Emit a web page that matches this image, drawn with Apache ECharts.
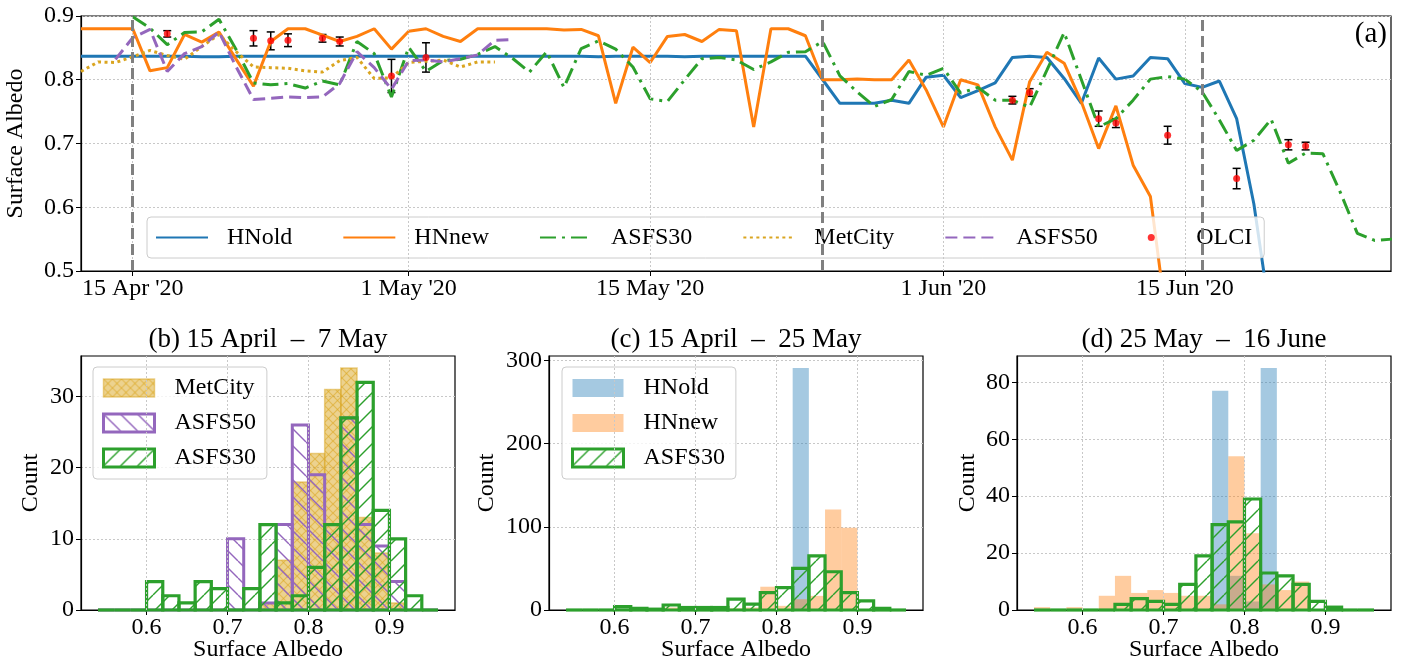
<!DOCTYPE html>
<html><head><meta charset="utf-8">
<script src="https://cdn.jsdelivr.net/npm/echarts@6/dist/echarts.min.js"></script>
<style>html,body{margin:0;padding:0;background:#fff}#c{width:1401px;height:667px}</style>
</head><body><div id="c"></div>
<script>
// ---------------- DATA ----------------
const dateTicks = ['2020-04-15', '2020-05-01', '2020-05-15', '2020-06-01', '2020-06-15'];
const dateTickLabels = ["15 Apr '20", "1 May '20", "15 May '20", "1 Jun '20", "15 Jun '20"];
const periodBounds = ['2020-04-15', '2020-05-25', '2020-06-16'];
const axisStart = '2020-04-12';
const axisEnd = '2020-06-27';

const hnoldStart = '2020-04-12';
const hnold = [0.837, 0.837, 0.837, 0.837, 0.837, 0.837, 0.837, 0.836, 0.836, 0.837,
  0.837, 0.837, 0.837, 0.837, 0.837, 0.837, 0.837, 0.837, 0.837, 0.837,
  0.837, 0.837, 0.837, 0.837, 0.837, 0.837, 0.837, 0.837, 0.837, 0.837,
  0.836, 0.837, 0.837, 0.837, 0.837, 0.836, 0.837, 0.837, 0.837, 0.837,
  0.837, 0.837, 0.837,
  0.800, 0.763, 0.763, 0.763, 0.768, 0.763, 0.804, 0.807, 0.772, 0.783,
  0.795, 0.835, 0.837, 0.835, 0.802, 0.763, 0.834, 0.801, 0.806, 0.835,
  0.833, 0.794, 0.788, 0.798, 0.739, 0.605, 0.420];

const hnnewStart = '2020-04-12';
const hnnew = [0.880, 0.880, 0.880, 0.880, 0.814, 0.819, 0.871, 0.859, 0.875, 0.832,
  0.790, 0.860, 0.880, 0.880, 0.870, 0.860, 0.868, 0.880, 0.848, 0.876,
  0.880, 0.868, 0.860, 0.880, 0.880, 0.880, 0.880, 0.880, 0.878, 0.879,
  0.869, 0.763, 0.851, 0.827, 0.868, 0.871, 0.860, 0.879, 0.877, 0.726,
  0.880, 0.880, 0.869, 0.800, 0.800, 0.801, 0.800, 0.800, 0.831, 0.784,
  0.726, 0.800, 0.792, 0.726, 0.674, 0.797, 0.843, 0.826, 0.765, 0.692,
  0.759, 0.666, 0.617, 0.410];

const asfs30Start = '2020-04-15';
const asfs30 = [0.899, 0.881, 0.855, 0.874, 0.875, 0.895, 0.847, 0.795, 0.792, 0.794,
  0.787, 0.798, 0.792, 0.860, 0.841, 0.773, 0.851, 0.813, 0.830, 0.832,
  0.840, 0.852, 0.834, 0.812, 0.844, 0.788, 0.849, 0.861, 0.848, 0.820,
  0.770, 0.766, 0.800, 0.833, 0.835, 0.831, 0.816, 0.828, 0.843, 0.844,
  0.860, 0.806, 0.781, 0.758, 0.769, 0.813, 0.807, 0.818, 0.779, 0.788,
  0.768, 0.768, 0.757, 0.815, 0.874, 0.800, 0.726, 0.739, 0.768, 0.801,
  0.805, 0.801, 0.781, 0.737, 0.689, 0.705, 0.738, 0.669, 0.685, 0.684,
  0.624, 0.559, 0.548, 0.550];

const metcityStart = '2020-04-12';
const metcity = [0.813, 0.828, 0.827, 0.836, 0.846, 0.838, 0.832, 0.852, 0.871, 0.844,
  0.820, 0.819, 0.818, 0.814, 0.812, 0.830, 0.835, 0.802, 0.803, 0.827,
  0.829, 0.831, 0.820, 0.828, 0.828];

const asfs50Start = '2020-04-14';
const asfs50 = [0.832, 0.866, 0.879, 0.813, 0.841, 0.852, 0.875, 0.820, 0.769, 0.771,
  0.773, 0.772, 0.773, 0.794, 0.844, 0.819, 0.785, 0.830, 0.831, 0.828,
  0.833, 0.839, 0.862, 0.863];

const olciDates = ['2020-04-17', '2020-04-22', '2020-04-23', '2020-04-24', '2020-04-26', '2020-04-27',
  '2020-04-30', '2020-05-02', '2020-06-05', '2020-06-06', '2020-06-10', '2020-06-11',
  '2020-06-14', '2020-06-18', '2020-06-21', '2020-06-22'];
const olciValues = [0.872, 0.865, 0.861, 0.862, 0.865, 0.860, 0.806, 0.835,
  0.768, 0.780, 0.739, 0.732, 0.713, 0.645, 0.698, 0.696];
const olciErrors = [0.005, 0.012, 0.014, 0.010, 0.006, 0.007, 0.026, 0.023,
  0.006, 0.006, 0.012, 0.007, 0.014, 0.016, 0.008, 0.006];

// histograms: bin edges and counts
const binEdges = [0.54, 0.56, 0.58, 0.60, 0.62, 0.64, 0.66, 0.68, 0.70, 0.72, 0.74,
  0.76, 0.78, 0.80, 0.82, 0.84, 0.86, 0.88, 0.90, 0.92, 0.94, 0.96];
const histTicks = [0.6, 0.7, 0.8, 0.9];

const metcityB = [0, 0, 0, 0, 0, 0, 0, 0, 0, 0, 1, 7, 18, 22, 31, 34, 13, 8, 1, 0, 0];
const asfs50B  = [0, 0, 0, 0, 0, 0, 0, 0, 10, 0, 1, 12, 26, 19, 12, 27, 12, 9, 4, 0, 0];
const asfs30B  = [0, 0, 0, 4, 2, 1, 4, 3, 0, 3, 12, 1, 2, 6, 12, 27, 32, 14, 10, 2, 0];
const yTicksB = [0, 10, 20, 30];

const hnoldC  = [0, 0, 0, 0, 0, 0, 0, 0, 0, 0, 0, 0, 0, 0, 291, 0, 0, 0, 0, 0, 0];
const hnnewC  = [0, 0, 0, 0, 0, 0, 3, 0, 0, 0, 2, 3, 28, 5, 13, 17, 121, 99, 0, 0, 0];
const asfs30C = [0, 0, 0, 4, 2, 1, 6, 3, 3, 3, 13, 7, 21, 27, 50, 65, 46, 21, 11, 2, 0];
const yTicksC = [0, 100, 200, 300];

const hnoldD  = [0, 0, 0, 0, 0, 0, 0, 0, 0, 0, 0, 77, 12, 3, 85, 0, 0, 0, 0, 0, 0];
const hnnewD  = [1, 0, 1, 0, 5, 12, 6, 7, 6, 5, 5, 2, 54, 27, 9, 7, 10, 0, 0, 0, 0];
const asfs30D = [0, 0, 0, 0, 0, 2, 4, 3, 2, 9, 19, 30, 31, 39, 13, 12, 9, 3, 1, 0, 0];
const yTicksD = [0, 20, 40, 60, 80];

const panelTitles = ['(b) 15 April  \u2013  7 May', '(c) 15 April  \u2013  25 May', '(d) 25 May  \u2013  16 June'];

// ---------------- HELPERS ----------------
const REF = Date.UTC(2020, 0, 1);
function dayOf(s) { const p = s.split('-').map(Number); return (Date.UTC(p[0], p[1] - 1, p[2]) - REF) / 864e5; }
function daily(start, vals) { const d0 = dayOf(start); return vals.map((v, i) => [d0 + i, v]); }
function bins(counts) { return counts.map((c, i) => [binEdges[i], binEdges[i + 1], c]); }

const C = { blue: '#1f77b4', orange: '#ff7f0e', green: '#2ca02c', gold: '#DAA520', purple: '#9467bd' };
const FONT = 'Liberation Serif';

function hatch(size, dirs, color, lw, bg) {
  const cv = document.createElement('canvas'); cv.width = cv.height = size;
  const g = cv.getContext('2d');
  if (bg) { g.fillStyle = bg; g.fillRect(0, 0, size, size); }
  g.strokeStyle = color; g.lineWidth = lw;
  for (const d of dirs) {
    for (let k = -1; k <= 1; k++) {
      g.beginPath();
      if (d === '/') { g.moveTo(k * size, size); g.lineTo(k * size + size, 0); }
      else { g.moveTo(k * size, 0); g.lineTo(k * size + size, size); }
      g.stroke();
    }
  }
  return { image: cv, repeat: 'repeat' };
}
const patGreen = hatch(17, ['/'], C.green, 1.4, null);
const patPurple = hatch(17, ['\\'], C.purple, 1.4, null);
const patGold = hatch(9, ['/', '\\'], 'rgba(218,165,32,0.55)', 1.2, 'rgba(218,165,32,0.5)');

const STY = {
  metcity: { fill: patGold, stroke: 'rgba(218,165,32,0.5)', lineWidth: 1.5 },
  asfs50: { fill: patPurple, stroke: C.purple, lineWidth: 3 },
  asfs30: { fill: patGreen, stroke: C.green, lineWidth: 3.2 },
  hnold: { fill: 'rgba(31,119,180,0.4)', stroke: null, lineWidth: 0 },
  hnnew: { fill: 'rgba(255,127,14,0.4)', stroke: null, lineWidth: 0 }
};

function histSeries(name, counts, gi, sty) {
  return {
    name: name, type: 'custom', xAxisIndex: gi, yAxisIndex: gi, silent: true,
    data: bins(counts), encode: { x: [0, 1], y: 2 },
    itemStyle: { color: sty.fill, borderColor: sty.stroke || 'transparent', borderWidth: sty.lineWidth },
    renderItem: function (params, api) {
      const x0 = api.value(0), x1 = api.value(1), c = api.value(2);
      const p0 = api.coord([x0, c]), p1 = api.coord([x1, 0]);
      if (c === 0) {
        if (!sty.stroke) return null;
        return { type: 'line', shape: { x1: p0[0], y1: p1[1], x2: p1[0], y2: p1[1] }, style: { stroke: sty.stroke, lineWidth: sty.lineWidth } };
      }
      return {
        type: 'rect',
        shape: { x: p0[0], y: p0[1], width: p1[0] - p0[0], height: p1[1] - p0[1] },
        style: { fill: sty.fill, stroke: sty.stroke || null, lineWidth: sty.lineWidth }
      };
    }
  };
}

const tickDays = dateTicks.map(dayOf);
const gridLine = { color: '#c8c8c8', width: 1, type: [2, 2] };

// ---------------- LAYOUT ----------------
const topGrid = { left: 81, top: 16, width: 1310, height: 255 };
const histGrids = [
  { left: 81, top: 356, width: 374, height: 254 },
  { left: 549, top: 356, width: 374, height: 254 },
  { left: 1017, top: 356, width: 374, height: 254 }
];
const histNameGaps = [38, 50, 37];

const grids = [topGrid].concat(histGrids).map(g => Object.assign({
  show: true, borderColor: '#000', borderWidth: 1.2, backgroundColor: 'transparent',
  containLabel: false, outerBoundsMode: 'none'
}, g));

const xAxes = [{
  type: 'value', gridIndex: 0, min: dayOf(axisStart), max: dayOf(axisEnd) - 0.05,
  axisLine: { show: true, lineStyle: { color: '#000', width: 1.2 } },
  axisTick: { show: true, customValues: tickDays, length: 5, lineStyle: { color: '#000', width: 1 } },
  axisLabel: {
    customValues: tickDays, fontSize: 24, fontFamily: FONT, color: '#000', margin: 6,
    formatter: v => { const i = tickDays.indexOf(v); return i >= 0 ? dateTickLabels[i] : ''; }
  },
  splitLine: { show: false }
}];
const yAxes = [{
  type: 'value', gridIndex: 0, min: 0.5, max: 0.9, interval: 0.1,
  axisLine: { show: true, lineStyle: { color: '#000', width: 1.2 } },
  axisTick: { show: true, length: 5, lineStyle: { color: '#000' } },
  axisLabel: { fontSize: 24, fontFamily: FONT, color: '#000', margin: 7, formatter: v => v.toFixed(1) },
  splitLine: { show: true, lineStyle: gridLine },
  name: 'Surface Albedo', nameLocation: 'middle', nameGap: 53, nameMoveOverlap: false,
  nameTextStyle: { fontSize: 24, fontFamily: FONT, color: '#000' }
}];

const histY = [[metcityB, asfs50B, asfs30B, yTicksB], [hnoldC, hnnewC, asfs30C, yTicksC], [hnoldD, hnnewD, asfs30D, yTicksD]];
histY.forEach((h, i) => {
  const gi = i + 1;
  const mx = Math.max(...h[0], ...h[1], ...h[2]) * 1.05;
  const pad = (binEdges[binEdges.length - 1] - binEdges[0]) * 0.05;
  xAxes.push({
    type: 'value', gridIndex: gi, min: binEdges[0] - pad, max: binEdges[binEdges.length - 1] + pad,
    axisLine: { show: true, lineStyle: { color: '#000', width: 1.2 } },
    axisTick: { show: true, customValues: histTicks, length: 5, lineStyle: { color: '#000' } },
    axisLabel: { customValues: histTicks, fontSize: 24, fontFamily: FONT, color: '#000', margin: 6, formatter: v => v.toFixed(1) },
    splitLine: { show: false },
    name: 'Surface Albedo', nameLocation: 'middle', nameGap: 28, nameMoveOverlap: false,
    nameTextStyle: { fontSize: 24, fontFamily: FONT, color: '#000' }
  });
  yAxes.push({
    type: 'value', gridIndex: gi, min: 0, max: mx, interval: h[3][1] - h[3][0],
    axisLine: { show: true, lineStyle: { color: '#000', width: 1.2 } },
    axisTick: { show: true, customValues: h[3], length: 5, lineStyle: { color: '#000' } },
    axisLabel: { customValues: h[3], fontSize: 24, fontFamily: FONT, color: '#000', margin: 7 },
    splitLine: { show: true, lineStyle: gridLine },
    name: 'Count', nameLocation: 'middle', nameGap: histNameGaps[i], nameMoveOverlap: false,
    nameTextStyle: { fontSize: 24, fontFamily: FONT, color: '#000' }
  });
});

// ---------------- SERIES ----------------
const series = [
  { type: 'line', xAxisIndex: 0, yAxisIndex: 0, data: [], silent: true, z: 1,
    markLine: { silent: true, symbol: ['none', 'none'], label: { show: false }, animation: false,
      lineStyle: gridLine, data: tickDays.map(d => ({ xAxis: d })) } },
  { name: 'HNold', type: 'line', xAxisIndex: 0, yAxisIndex: 0, data: daily(hnoldStart, hnold), symbol: 'none', showSymbol: false,
    lineStyle: { color: C.blue, width: 3 }, itemStyle: { color: C.blue } },
  { name: 'HNnew', type: 'line', xAxisIndex: 0, yAxisIndex: 0, data: daily(hnnewStart, hnnew), symbol: 'none', showSymbol: false,
    lineStyle: { color: C.orange, width: 3 }, itemStyle: { color: C.orange } },
  { name: 'ASFS30', type: 'line', xAxisIndex: 0, yAxisIndex: 0, data: daily(asfs30Start, asfs30), symbol: 'none', showSymbol: false,
    lineStyle: { color: C.green, width: 3, type: [16, 6, 3, 6] }, itemStyle: { color: C.green } },
  { name: 'MetCity', type: 'line', xAxisIndex: 0, yAxisIndex: 0, data: daily(metcityStart, metcity), symbol: 'none', showSymbol: false,
    lineStyle: { color: C.gold, width: 3, type: [3, 3.5] }, itemStyle: { color: C.gold } },
  { name: 'ASFS50', type: 'line', xAxisIndex: 0, yAxisIndex: 0, data: daily(asfs50Start, asfs50), symbol: 'none', showSymbol: false,
    lineStyle: { color: C.purple, width: 3, type: [12, 6] }, itemStyle: { color: C.purple } },
  { name: 'OLCI err', type: 'custom', xAxisIndex: 0, yAxisIndex: 0, silent: true, z: 3,
    data: olciDates.map((d, i) => [dayOf(d), olciValues[i], olciErrors[i]]), encode: { x: 0, y: 1 },
    renderItem: function (params, api) {
      const x = api.value(0), v = api.value(1), e = api.value(2);
      const t = api.coord([x, v + e]), b = api.coord([x, v - e]);
      const st = { stroke: '#000', lineWidth: 1.5 };
      return { type: 'group', children: [
        { type: 'line', shape: { x1: t[0], y1: t[1], x2: b[0], y2: b[1] }, style: st },
        { type: 'line', shape: { x1: t[0] - 4, y1: t[1], x2: t[0] + 4, y2: t[1] }, style: st },
        { type: 'line', shape: { x1: b[0] - 4, y1: b[1], x2: b[0] + 4, y2: b[1] }, style: st }
      ] };
    } },
  { name: 'OLCI', type: 'scatter', xAxisIndex: 0, yAxisIndex: 0, z: 4, symbolSize: 7,
    data: olciDates.map((d, i) => [dayOf(d), olciValues[i]]), itemStyle: { color: '#ff0000' } },
  { type: 'line', xAxisIndex: 0, yAxisIndex: 0, data: [], silent: true, z: 5,
    markLine: { silent: true, symbol: ['none', 'none'], label: { show: false }, animation: false,
      lineStyle: { color: '#808080', width: 3, type: [11, 5] }, data: periodBounds.map(d => ({ xAxis: dayOf(d) })) } }
];

// histogram panels
[1, 2, 3].forEach(gi => {
  series.push({ type: 'line', xAxisIndex: gi, yAxisIndex: gi, data: [], silent: true, z: 1,
    markLine: { silent: true, symbol: ['none', 'none'], label: { show: false }, animation: false,
      lineStyle: gridLine, data: histTicks.map(v => ({ xAxis: v })) } });
});
series.push(histSeries('MetCity (b)', metcityB, 1, STY.metcity));
series.push(histSeries('ASFS50 (b)', asfs50B, 1, STY.asfs50));
series.push(histSeries('ASFS30 (b)', asfs30B, 1, STY.asfs30));
series.push(histSeries('HNold (c)', hnoldC, 2, STY.hnold));
series.push(histSeries('HNnew (c)', hnnewC, 2, STY.hnnew));
series.push(histSeries('ASFS30 (c)', asfs30C, 2, STY.asfs30));
series.push(histSeries('HNold (d)', hnoldD, 3, STY.hnold));
series.push(histSeries('HNnew (d)', hnnewD, 3, STY.hnnew));
series.push(histSeries('ASFS30 (d)', asfs30D, 3, STY.asfs30));

// ---------------- LEGENDS ----------------
const legendBox = { backgroundColor: 'rgba(255,255,255,0.8)', borderColor: '#cccccc', borderWidth: 1, borderRadius: 4 };
const stripName = n => n.replace(/ \([bcd]\)$/, '');
function histLegendItem(name, sty) {
  return { name: name, icon: 'rect', itemStyle: { color: sty.fill, borderColor: sty.stroke || 'transparent', borderWidth: sty.stroke ? Math.min(sty.lineWidth, 3) : 0 } };
}
const lineItem = n => ({ name: n, itemStyle: { opacity: 0 } });
const legends = [
  Object.assign({
    data: [lineItem('HNold'), lineItem('HNnew'), lineItem('ASFS30'), lineItem('MetCity'), lineItem('ASFS50'), 'OLCI'],
    left: 147, top: 217, orient: 'horizontal', padding: [8, 12, 8, 8],
    itemWidth: 52, itemHeight: 7, itemGap: 50, selectedMode: false,
    textStyle: { fontSize: 24, fontFamily: FONT, color: '#000', lineHeight: 25, padding: [0, 0, 0, 14] }
  }, legendBox),
  Object.assign({
    data: [histLegendItem('MetCity (b)', STY.metcity), histLegendItem('ASFS50 (b)', STY.asfs50), histLegendItem('ASFS30 (b)', STY.asfs30)],
    formatter: stripName, left: 93, top: 367, orient: 'vertical', padding: [9, 11, 9, 9],
    itemWidth: 51, itemHeight: 18, itemGap: 11, selectedMode: false,
    textStyle: { fontSize: 24, fontFamily: FONT, color: '#000', lineHeight: 24, padding: [0, 0, 0, 15] }
  }, legendBox),
  Object.assign({
    data: [histLegendItem('HNold (c)', STY.hnold), histLegendItem('HNnew (c)', STY.hnnew), histLegendItem('ASFS30 (c)', STY.asfs30)],
    formatter: stripName, left: 562, top: 367, orient: 'vertical', padding: [9, 11, 9, 9],
    itemWidth: 51, itemHeight: 18, itemGap: 11, selectedMode: false,
    textStyle: { fontSize: 24, fontFamily: FONT, color: '#000', lineHeight: 24, padding: [0, 0, 0, 15] }
  }, legendBox)
];

// ---------------- TITLES ----------------
const graphics = histGrids.map((g, i) => ({
  type: 'text', x: g.left + g.width / 2, y: 340, silent: true,
  style: { text: panelTitles[i], fontSize: 27, fontFamily: FONT, fill: '#000', align: 'center', verticalAlign: 'middle' }
}));
graphics.push({ type: 'text', x: topGrid.left + topGrid.width - 4, y: 34, silent: true,
  style: { text: '(a)', fontSize: 29, fontFamily: FONT, fill: '#000', align: 'right', verticalAlign: 'middle' } });

const chart = echarts.init(document.getElementById('c'), null, { renderer: 'canvas', width: 1401, height: 667 });
chart.setOption({
  animation: false,
  backgroundColor: '#fff',
  textStyle: { fontFamily: FONT, color: '#000' },
  grid: grids, xAxis: xAxes, yAxis: yAxes, series: series, legend: legends, graphic: graphics
});
</script></body></html>
